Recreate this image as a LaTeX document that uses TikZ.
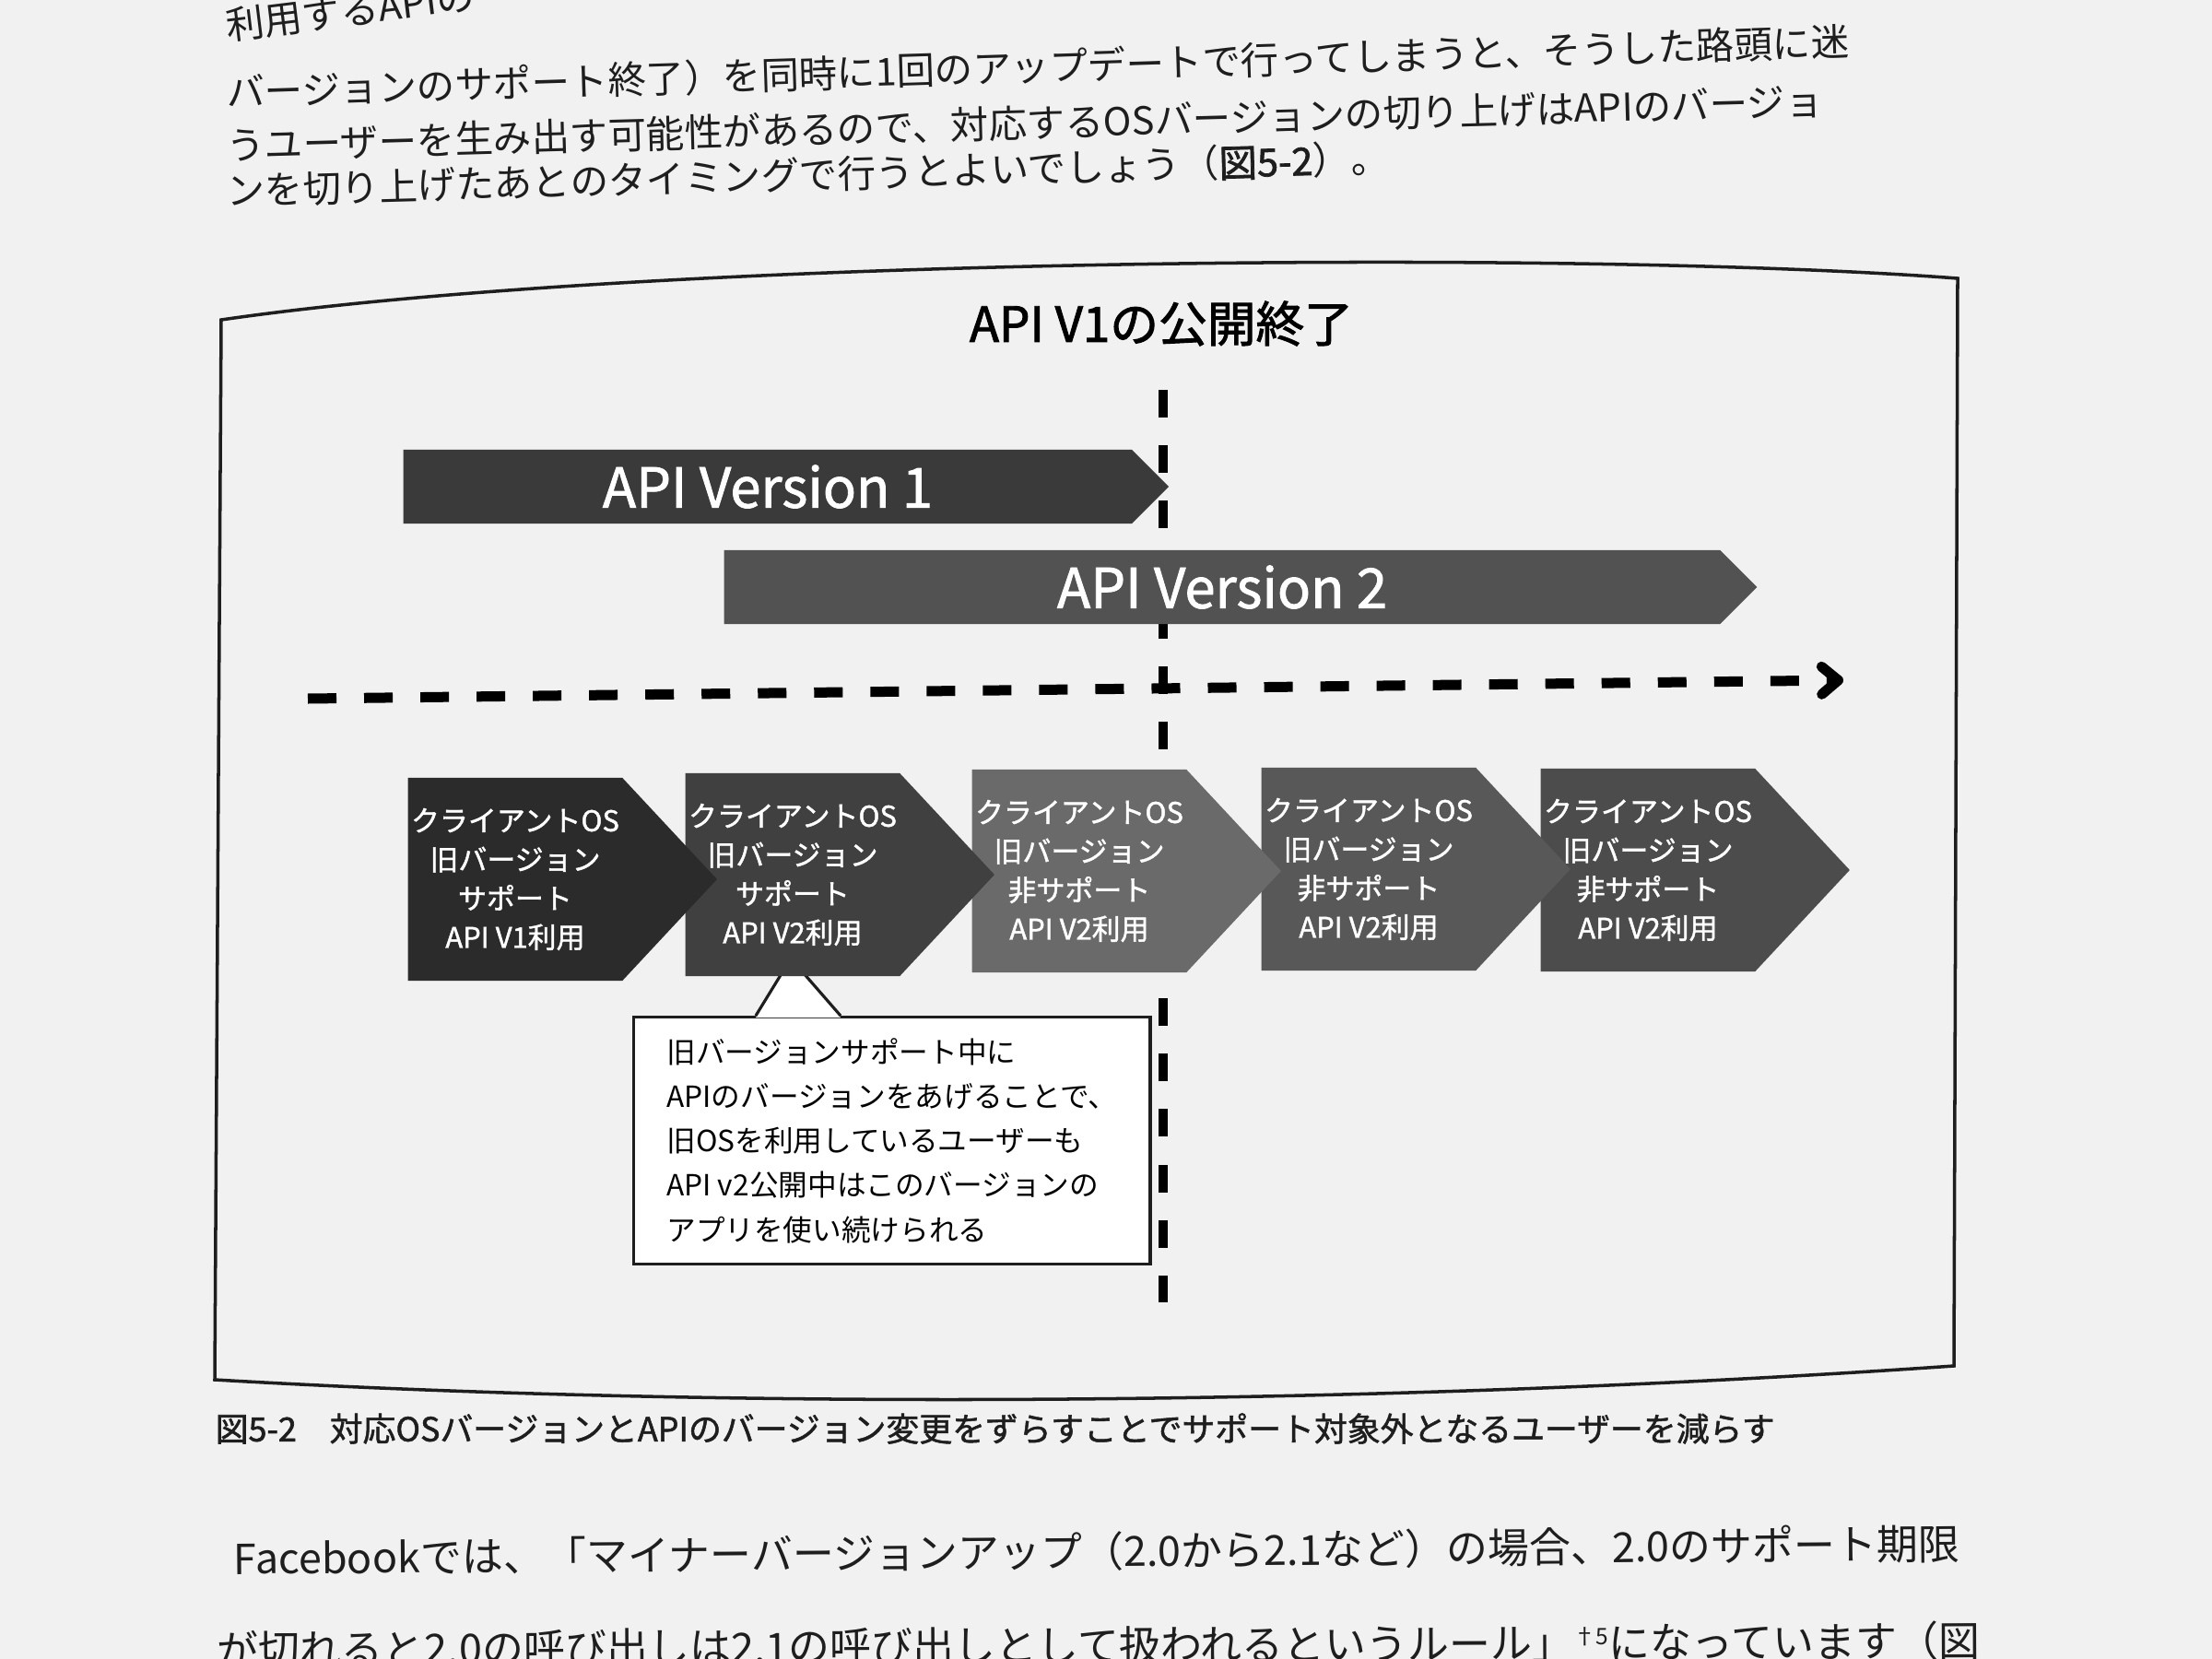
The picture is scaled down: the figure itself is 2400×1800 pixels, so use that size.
\documentclass[tikz,border=0pt]{standalone}
\usepackage{fontspec}
\usetikzlibrary{shapes.symbols,arrows.meta}
\newfontfamily\jp{Noto Sans CJK JP}
\newfontfamily\jpm[FakeBold=1.4]{Noto Sans CJK JP}
\newfontfamily\jpb[FakeBold=1.8]{Noto Sans CJK JP}
\definecolor{paper}{HTML}{F1F1F1}
\definecolor{ink}{HTML}{1E1E1E}
\definecolor{fillvone}{HTML}{3A3A3A}
\definecolor{fillvtwo}{HTML}{525252}
\definecolor{osa}{HTML}{2B2B2B}
\definecolor{osb}{HTML}{404040}
\definecolor{osc}{HTML}{6A6A6A}
\definecolor{osd}{HTML}{585858}
\definecolor{ose}{HTML}{4C4C4C}
\begin{document}
\begin{tikzpicture}[x=0.01cm,y=-0.01cm,
  verarrow/.style={shape=signal,signal to=east,signal pointer angle=90,minimum height=0.8cm,inner sep=0pt,text=white,anchor=west,font=\jpm\fontsize{17}{17}\selectfont},
  chev/.style={shape=signal,signal to=east,signal pointer angle=94,minimum width=3.35cm,minimum height=2.2cm,inner sep=0pt,text=white,align=center,anchor=west,font=\jpm\fontsize{8.8}{12}\selectfont},
  bodyline/.style={anchor=west,inner sep=0pt,text=ink,font=\jp\fontsize{11.8}{11.8}\selectfont}]
	\useasboundingbox (0,0) rectangle (2400,1800);
	\fill [paper] (0,0) rectangle (2400,1800);
	\draw [line width=1pt, ink] (240,347) .. controls (700,280) and (1700,270) .. (2124,302) -- (2120,1482) .. controls (1500,1525) and (800,1530) .. (233,1497) -- cycle;
	\node [font=\jpb\fontsize{15}{15}\selectfont] (title) at (1260,351) {API V1の公開終了};
	\node [verarrow, fill=fillvone, minimum width=8.3cm] (vone) at (437,528) {API Version 1};
	\coordinate (vtop) at (1262,423);
	\coordinate (vbot) at (1262,1413);
	\draw [line width=0.1cm, dash pattern=on 0.3cm off 0.3cm] (vtop) -- (vbot);
	\node [verarrow, fill=fillvtwo, minimum width=11.2cm] (vtwo) at (785,637) {API Version 2};
	\coordinate (tleft) at (334,758);
	\coordinate (tright) at (2000,738);
	\draw [line width=0.11cm, dash pattern=on 0.31cm off 0.30cm, -{Straight Barb[length=0.18cm,width=0.3cm,round]}] (tleft) -- (tright);
	\node [draw=ink, line width=0.9pt, fill=white, minimum width=5.6cm, minimum height=2.68cm, inner sep=0pt, align=left, anchor=north west, font=\jp\fontsize{9}{13.7}\selectfont] (note) at (686,1102) {旧バージョンサポート中に\\APIのバージョンをあげることで、\\旧OSを利用しているユーザーも\\API v2公開中はこのバージョンの\\アプリを使い続けられる};
	\coordinate (notetip) at (858,1040);
	\fill [white] (820,1104) -- (notetip) -- (912,1104) -- cycle;
	\draw [line width=0.9pt, ink] (820,1102) -- (notetip) -- (912,1102);
	\node [chev, fill=ose] (c5) at (1671,944) {クライアントOS\\旧バージョン\\非サポート\\API V2利用};
	\node [chev, fill=osd] (c4) at (1368,943) {クライアントOS\\旧バージョン\\非サポート\\API V2利用};
	\node [chev, fill=osc] (c3) at (1054,945) {クライアントOS\\旧バージョン\\非サポート\\API V2利用};
	\node [chev, fill=osb] (c2) at (743,949) {クライアントOS\\旧バージョン\\サポート\\API V2利用};
	\node [chev, fill=osa] (c1) at (442,954) {クライアントOS\\旧バージョン\\サポート\\API V1利用};
	\node [anchor=west, inner sep=0pt, text=ink, font=\jpm\fontsize{10.2}{10.2}\selectfont] (caption) at (233,1550) {{\jpb 図5-2}\quad 対応OSバージョンとAPIのバージョン変更をずらすことでサポート対象外となるユーザーを減らす};
	\node [bodyline, rotate=7] (pa) at (245,28) {利用するAPIの};
	\node [bodyline, rotate=1.8] (pb) at (245,100) {バージョンのサポート終了）を同時に1回のアップデートで行ってしまうと、そうした路頭に迷};
	\node [bodyline, rotate=1.6] (pc) at (245,158) {うユーザーを生み出す可能性があるので、対応するOSバージョンの切り上げはAPIのバージョ};
	\node [bodyline, rotate=1.6] (pd) at (245,207) {ンを切り上げたあとのタイミングで行うとよいでしょう（{\jpb 図5-2}）。};
	\node [bodyline, rotate=0.5, font=\jp\fontsize{12.8}{12.8}\selectfont] (pe) at (253,1691) {Facebookでは、「マイナーバージョンアップ（2.0から2.1など）の場合、2.0のサポート期限};
	\node [bodyline, rotate=0.3, font=\jp\fontsize{12.8}{12.8}\selectfont] (pf) at (235,1790) {が切れると2.0の呼び出しは2.1の呼び出しとして扱われるというルール」\raisebox{0.6ex}{\fontsize{7}{7}\selectfont †5}になっています（図};
\end{tikzpicture}
\end{document}
